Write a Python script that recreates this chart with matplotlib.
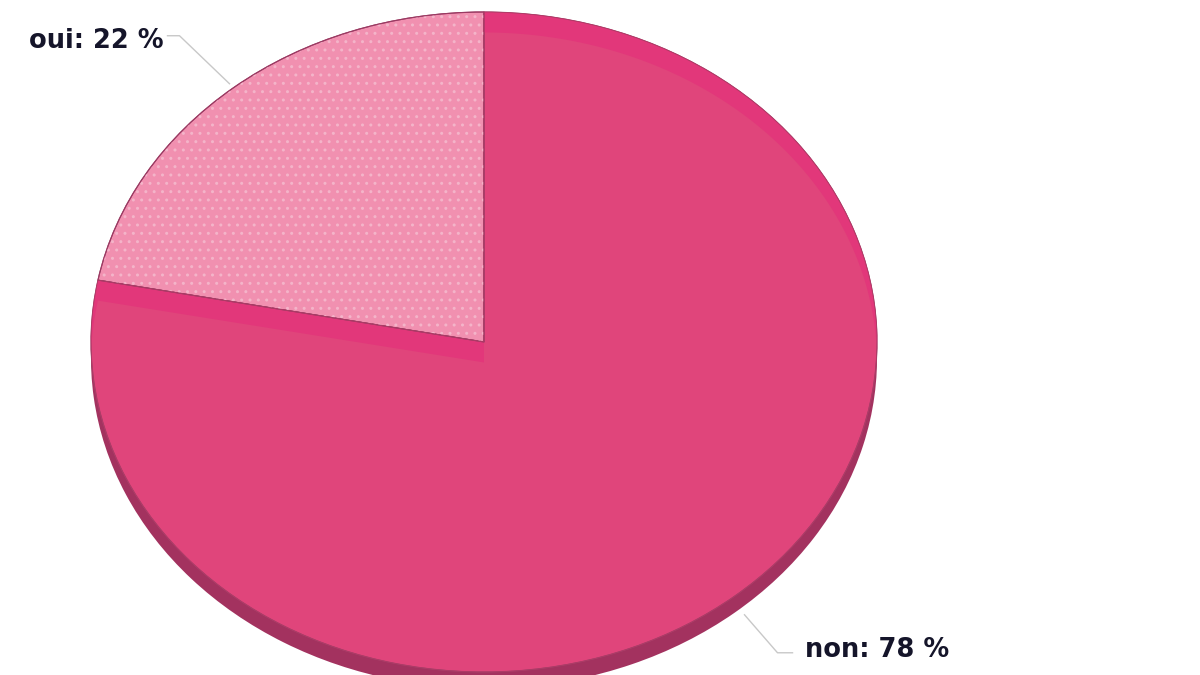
import numpy as np
import matplotlib
matplotlib.use("Agg")
import matplotlib.pyplot as plt
from matplotlib.patches import Polygon

labels = ["oui", "non"]
values = [22, 78]

top_colors = ["#F190B0", "#E0457B"]
side_colors = ["#C86A8E", "#A3325F"]
band_color = "#E2377A"

# ellipse in pixels: centre (484, 342), rx 393, ry 330
cx, cy, rx, ry = 484, 342, 393, 330
depth = 0.05
s = 0.062   # bevel offset

fig = plt.figure(figsize=(12, 6.75), dpi=100)
ax = fig.add_axes([0, 0, 1, 1])

# side (depth) of the pie
side, _ = ax.pie(values, colors=side_colors, startangle=90, counterclock=True,
                 center=(0, -depth), radius=1, wedgeprops=dict(linewidth=0))
for w in side:
    w.set_zorder(1)

# top faces
top, _ = ax.pie(values, colors=top_colors, startangle=90,
                counterclock=True, radius=1,
                wedgeprops=dict(linewidth=0.8, edgecolor="#A04068"))
for w in top:
    w.set_zorder(2)

# dotted texture on "oui"
dots, _ = ax.pie(values, colors=["none", "none"], startangle=90, counterclock=True,
                 radius=1, wedgeprops=dict(linewidth=0))
dots[0].set_hatch("..")
dots[0].set_edgecolor("#F4B4C9")
dots[0].set_linewidth(0)
dots[0].set_zorder(3)
dots[1].set_visible(False)

# bevel bands on the "non" face (face minus the face shifted down by s)
A = np.deg2rad(90 + 360 * values[0] / sum(values))
t = np.arcsin(s / 2)
th = np.linspace(np.pi / 2, -t, 120)
ph = np.linspace(t, np.pi / 2, 120)
band1 = np.vstack([np.c_[np.cos(th), np.sin(th)],
                   np.c_[np.cos(ph), np.sin(ph) - s]])
th2 = np.linspace(A, np.pi + t, 60)
ph2 = np.linspace(np.pi - t, A, 60)
band2 = np.vstack([[[0, 0]], np.c_[np.cos(th2), np.sin(th2)],
                   np.c_[np.cos(ph2), np.sin(ph2) - s], [[0, -s]]])
for b in (band1, band2):
    ax.add_patch(Polygon(b, closed=True, facecolor=band_color, lw=0, zorder=3))

# redraw edges on top
edge, _ = ax.pie(values, colors=["none", "none"], startangle=90, counterclock=True,
                 radius=1, wedgeprops=dict(linewidth=0.8, edgecolor="#9A3A62"))
edge[1].set_edgecolor("#B03A66")
edge[1].set_linewidth(0.6)
for w in edge:
    w.set_zorder(4)

ax.set_aspect("auto")
ax.set_xlim(-cx / rx, (1200 - cx) / rx)
ax.set_ylim(-(675 - cy) / ry, cy / ry)
ax.axis("off")

# leader lines and labels
angles = []
a0 = 90
for v in values:
    a1 = a0 + 360 * v / sum(values)
    angles.append(np.deg2rad((a0 + a1) / 2))
    a0 = a1

px = 1 / rx
py = 1 / ry
# oui
ax_, ay_ = np.cos(angles[0]), np.sin(angles[0])
ax.plot([ax_ - 4 * px, ax_ - 54 * px, ax_ - 66 * px],
        [ay_ + 4 * py, ay_ + 52 * py, ay_ + 52 * py],
        color="#C8C8C8", lw=1, zorder=5)
ax.text(ax_ - 70 * px, ay_ + 47 * py, "oui: 22 %", ha="right", va="center",
        fontsize=18.5, fontweight="bold", color="#15152A", family="DejaVu Sans", zorder=6)
# non
bx, by = np.cos(angles[1]), np.sin(angles[1]) - depth
ax.plot([bx + 10 * px, bx + 43 * px, bx + 58 * px],
        [by - 2 * py, by - 40 * py, by - 40 * py],
        color="#C8C8C8", lw=1, zorder=5)
ax.text(bx + 70 * px, by - 37 * py, "non: 78 %", ha="left", va="center",
        fontsize=18.5, fontweight="bold", color="#15152A", family="DejaVu Sans", zorder=6)

fig.savefig("out.png", dpi=100, facecolor="white")
